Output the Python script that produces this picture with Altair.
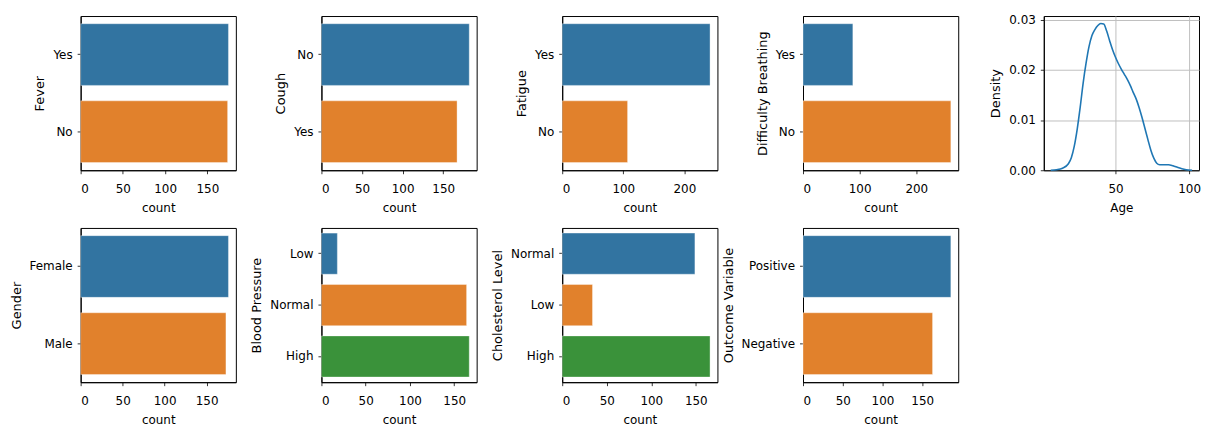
import altair as alt
import pandas as pd

FONT = "DejaVu Sans"
PALETTE = ["#3274a1", "#e1812c", "#3a923a"]
KDE_COLOR = "#1f77b4"

# ---- data ----
fever_cats = ["Yes", "No"]
fever_counts = [175, 174]
cough_cats = ["No", "Yes"]
cough_counts = [182, 167]
fatigue_cats = ["Yes", "No"]
fatigue_counts = [242, 107]
breath_cats = ["Yes", "No"]
breath_counts = [88, 261]
gender_cats = ["Female", "Male"]
gender_counts = [176, 173]
bp_cats = ["Low", "Normal", "High"]
bp_counts = [18, 164, 167]
chol_cats = ["Normal", "Low", "High"]
chol_counts = [149, 34, 166]
outcome_cats = ["Positive", "Negative"]
outcome_counts = [186, 163]

age_x = [6, 10, 14, 18, 20, 22, 24, 26, 28, 30, 32, 34, 36, 38, 40, 42, 44, 46, 48,
         50, 52, 54, 56, 58, 60, 62, 64, 66, 68, 70, 72, 74, 76, 78, 80, 83, 86, 89,
         92, 95, 98, 102]
age_density = [0.0, 0.0001, 0.0004, 0.0013, 0.0025, 0.0048, 0.0082, 0.0125, 0.0173,
               0.0213, 0.0246, 0.0268, 0.0280, 0.0288, 0.0292, 0.0291, 0.0277, 0.0258,
               0.0240, 0.0225, 0.0212, 0.0201, 0.0191, 0.0181, 0.0169, 0.0155, 0.0142,
               0.0125, 0.0105, 0.0083, 0.0061, 0.0040, 0.0024, 0.0014, 0.0011, 0.0011,
               0.0011, 0.0009, 0.0006, 0.0003, 0.0001, 0.0]

count_ticks_150 = [0, 50, 100, 150]
count_ticks_200 = [0, 100, 200]
age_ticks = [50, 100]
density_ticks = [0.0, 0.01, 0.02, 0.03]

W, H = 156, 155


def bar_panel(title, cats, counts, ticks):
    df = pd.DataFrame({"cat": cats, "count": counts})
    xmax = max(counts) * 1.05
    return (
        alt.Chart(df)
        .mark_bar(stroke="white", strokeWidth=0.6, strokeOpacity=0.6)
        .encode(
            y=alt.Y("cat:N", sort=cats, title=title,
                    scale=alt.Scale(paddingInner=0.2, paddingOuter=0.1)),
            x=alt.X("count:Q", title="count",
                    scale=alt.Scale(domain=[0, xmax], nice=False, zero=True),
                    axis=alt.Axis(values=ticks, format="d")),
            color=alt.Color("cat:N",
                            scale=alt.Scale(domain=cats, range=PALETTE[:len(cats)]),
                            legend=None),
        )
        .properties(width=W, height=H)
    )


kde_df = pd.DataFrame({"Age": age_x, "Density": age_density})
kde = (
    alt.Chart(kde_df)
    .mark_line(color=KDE_COLOR, strokeWidth=1.6, interpolate="monotone")
    .encode(
        x=alt.X("Age:Q", title="Age",
                scale=alt.Scale(domain=[1.3, 106.7], nice=False, zero=False),
                axis=alt.Axis(values=age_ticks, grid=True, gridColor="#c0c0c0",
                              gridWidth=1, format="d")),
        y=alt.Y("Density:Q", title="Density",
                scale=alt.Scale(domain=[0, 0.0307], nice=False),
                axis=alt.Axis(values=density_ticks, grid=True, gridColor="#c0c0c0",
                              gridWidth=1, format=".2f")),
    )
    .properties(width=W, height=H)
)

panels = [
    bar_panel("Fever", fever_cats, fever_counts, count_ticks_150),
    bar_panel("Cough", cough_cats, cough_counts, count_ticks_150),
    bar_panel("Fatigue", fatigue_cats, fatigue_counts, count_ticks_200),
    bar_panel("Difficulty Breathing", breath_cats, breath_counts, count_ticks_200),
    kde,
    bar_panel("Gender", gender_cats, gender_counts, count_ticks_150),
    bar_panel("Blood Pressure", bp_cats, bp_counts, count_ticks_150),
    bar_panel("Cholesterol Level", chol_cats, chol_counts, count_ticks_150),
    bar_panel("Outcome Variable", outcome_cats, outcome_counts, count_ticks_150),
]

chart = (
    alt.concat(*panels, columns=5, spacing={"row": 58, "column": 86}, bounds="flush")
    .resolve_scale(x="independent", y="independent", color="independent")
    .properties(padding={"left": 1, "top": 4, "right": 0, "bottom": 3})
    .configure(background="white")
    .configure_view(stroke="black", strokeWidth=1)
    .configure_axis(
        grid=False,
        domainColor="black", domainWidth=1,
        tickColor="black", tickSize=3.5, tickWidth=0.8,
        labelColor="black", labelFont=FONT, labelFontSize=12, labelPadding=5,
        titleColor="black", titleFont=FONT, titleFontSize=12,
        titleFontWeight="normal", titlePadding=5,
    )
    .configure_axisX(labelPadding=10, titlePadding=8)
    .configure_axisY(titleFontSize=13, titlePadding=6)
)

chart.save("out.html", embed_options={"renderer": "svg", "actions": False})
